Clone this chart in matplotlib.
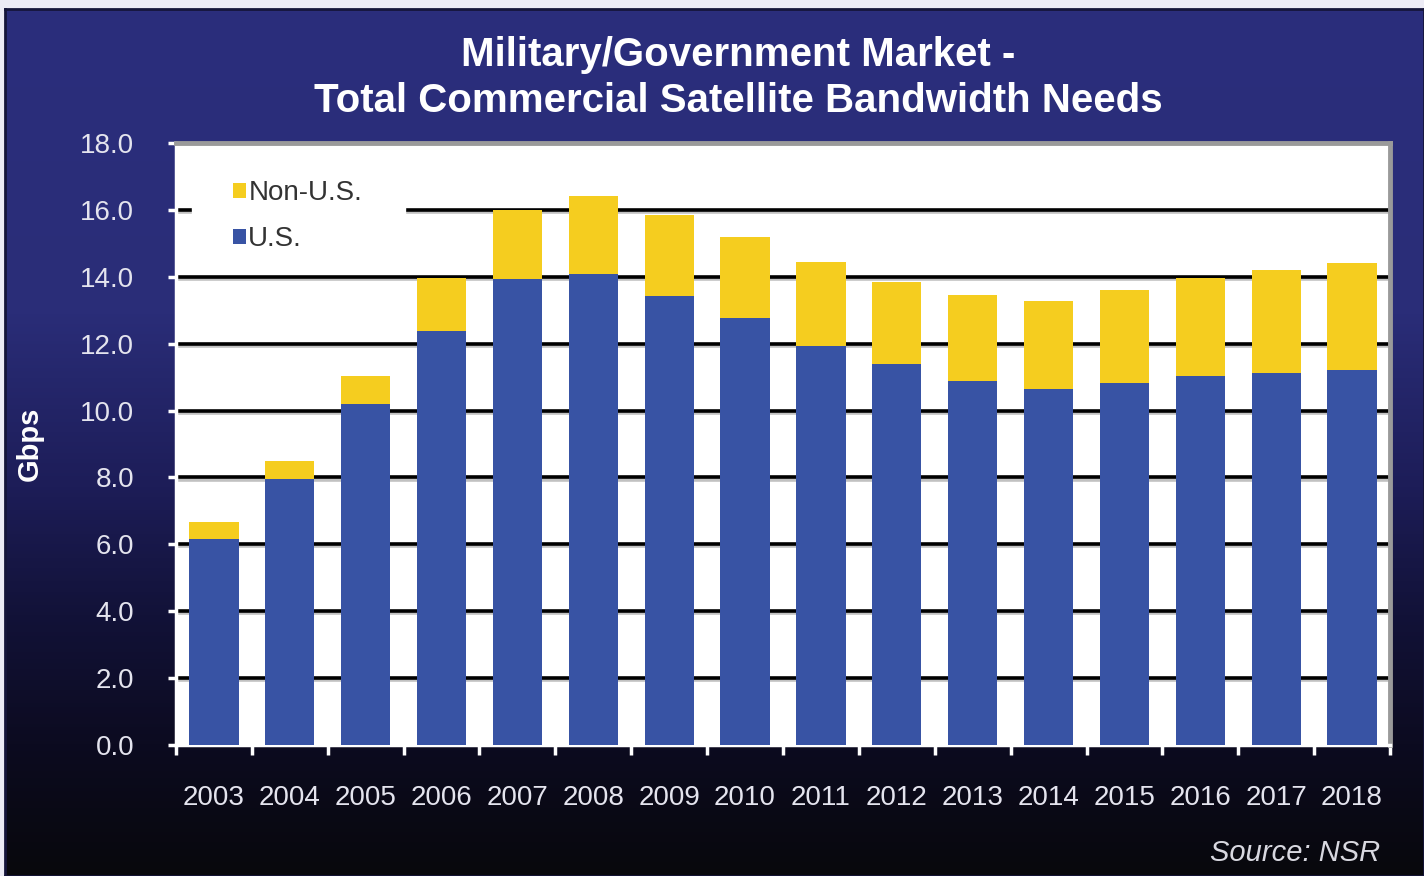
import matplotlib.pyplot as plt
import numpy as np
from matplotlib.colors import LinearSegmentedColormap
import matplotlib.patheffects as pe

plt.rcParams['font.family'] = ['Liberation Sans', 'DejaVu Sans']

years = ['2003', '2004', '2005', '2006', '2007', '2008', '2009', '2010',
         '2011', '2012', '2013', '2014', '2015', '2016', '2017', '2018']
us = [6.15, 7.94, 10.21, 12.39, 13.94, 14.09, 13.43, 12.78,
      11.94, 11.40, 10.87, 10.63, 10.81, 11.04, 11.13, 11.22]
total = [6.66, 8.48, 11.04, 13.97, 16.0, 16.42, 15.85, 15.19,
         14.45, 13.85, 13.46, 13.28, 13.61, 13.97, 14.21, 14.42]
non_us = [t - u for t, u in zip(total, us)]
yticks = np.arange(0, 18.1, 2.0)

blue = '#3853a4'
yellow = '#f5cd1f'

fig = plt.figure(figsize=(14.24, 8.76), dpi=100, facecolor='#ecebf5')

# gradient background panel
bg = fig.add_axes([5 / 1424, 0, 1 - 5 / 1424, 1 - 9 / 876], zorder=-5)
cmap = LinearSegmentedColormap.from_list('bg', [
    (0.0, '#2b2e7c'), (0.35, '#2a2d78'), (0.55, '#1d1d58'),
    (0.7, '#121238'), (0.85, '#0c0b20'), (1.0, '#08080c')])
grad = np.linspace(0, 1, 256).reshape(-1, 1)
bg.imshow(grad, aspect='auto', cmap=cmap, extent=[0, 1, 0, 1])
bg.set_xticks([])
bg.set_yticks([])
for s in bg.spines.values():
    s.set_color('#15153a')
    s.set_linewidth(2)

ax = fig.add_axes([176 / 1424, 1 - 745 / 876, (1390 - 176) / 1424, (745 - 143) / 876])
ax.set_facecolor('white')
x = np.arange(len(years))
ax.bar(x, us, width=0.65, color=blue, label='U.S.', zorder=3)
ax.bar(x, non_us, bottom=us, width=0.65, color=yellow, label='Non-U.S.', zorder=3)

ax.set_xlim(-0.5, len(years) - 0.5)
ax.set_ylim(0, 18)
ax.set_yticks(yticks)
ax.set_yticklabels([f'{v:.1f}' for v in yticks])
shadow = [pe.SimpleLineShadow(offset=(0, -1.5), shadow_color='#999999', alpha=0.6), pe.Normal()]
for v in yticks[1:-1]:
    if v == 16:
        # the legend box interrupts this gridline
        ax.axhline(v, xmin=0, xmax=0.0115, color='black', lw=2.6, zorder=1, path_effects=shadow)
        ax.axhline(v, xmin=0.191, xmax=1, color='black', lw=2.6, zorder=1, path_effects=shadow)
    else:
        ax.axhline(v, color='black', lw=2.6, zorder=1, path_effects=shadow)

ax.set_xticks(np.arange(len(years) + 1) - 0.5)
ax.set_xticklabels([])
ax.set_xticks(x, minor=True)
ax.set_xticklabels(years, minor=True)
ax.tick_params(axis='x', which='major', direction='out', length=7, width=2.5, color='white')
ax.tick_params(axis='x', which='minor', length=0, pad=29, labelsize=20, labelcolor='#e4e4ee')
ax.tick_params(axis='y', direction='out', length=6, width=2.5, color='white', pad=24,
               labelsize=20, labelcolor='#e4e4ee')

ax.spines['left'].set_color('white')
ax.spines['left'].set_linewidth(2.5)
ax.spines['bottom'].set_color('white')
ax.spines['bottom'].set_linewidth(2.5)
ax.spines['top'].set_color('#9a9a9a')
ax.spines['top'].set_linewidth(3.5)
ax.spines['right'].set_color('#9a9a9a')
ax.spines['right'].set_linewidth(3.5)

ax.set_ylabel('Gbps', color='white', fontsize=21, fontweight='bold', labelpad=26)

h, l = ax.get_legend_handles_labels()
leg = ax.legend(h[::-1], l[::-1], loc='upper left', bbox_to_anchor=(0.047, 0.938),
                fontsize=20, frameon=False, handlelength=0.45, handleheight=0.45,
                handletextpad=0.1, labelspacing=0.72, borderpad=0, borderaxespad=0)
for t in leg.get_texts():
    t.set_color('#333333')
leg.set_zorder(5)

fig.text(738 / 1424, 1 - 78 / 876,
         'Military/Government Market -\nTotal Commercial Satellite Bandwidth Needs',
         ha='center', va='center', color='white', fontsize=29, fontweight='bold',
         linespacing=1.24)
fig.text(1380 / 1424, 1 - 853 / 876, 'Source: NSR', ha='right', va='center',
         color='#d8d8e0', fontsize=21, style='italic')

fig.savefig('out.png', dpi=100, facecolor=fig.get_facecolor())
